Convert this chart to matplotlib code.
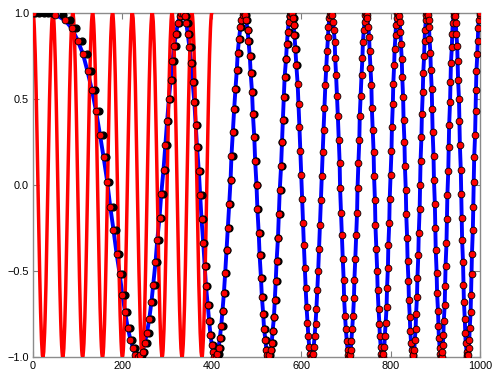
import numpy as np
import matplotlib
matplotlib.use("Agg")
import matplotlib.pyplot as plt

plt.rcParams['font.family'] = ['Liberation Sans', 'DejaVu Sans']

# reference signal (red), values x100, one per sample index 0..400
signal_x100 = [
    100, 99, 96, 91, 84, 76, 66, 55, 43, 29, 16, 2, -13, -26, -40, -52, -64, -74, -83, -90,
    -95, -99, -100, -99, -97, -92, -86, -78, -68, -58, -45, -32, -19, -5, 9, 23, 37, 50, 61, 72,
    81, 88, 94, 98, 100, 100, 98, 94, 88, 80, 71, 60, 48, 35, 22, 8, -6, -20, -34, -47,
    -59, -70, -79, -87, -93, -97, -100, -100, -98, -95, -89, -82, -73, -63, -51, -38, -25, -11, 3, 17,
    31, 44, 56, 67, 77, 85, 92, 96, 99, 100, 99, 96, 90, 84, 75, 65, 54, 41, 28, 14,
    0, -14, -28, -41, -54, -65, -75, -84, -90, -96, -99, -100, -99, -96, -92, -85, -77, -67, -56, -44,
    -31, -17, -3, 11, 25, 38, 51, 63, 73, 82, 89, 95, 98, 100, 100, 97, 93, 87, 79, 70,
    59, 47, 34, 20, 6, -8, -22, -35, -48, -60, -71, -80, -88, -94, -98, -100, -100, -98, -94, -88,
    -81, -72, -61, -50, -37, -23, -9, 5, 19, 32, 45, 58, 68, 78, 86, 92, 97, 99, 100, 99,
    95, 90, 83, 74, 64, 52, 40, 26, 13, -2, -16, -29, -43, -55, -66, -76, -84, -91, -96, -99,
    -100,
    -99, -96, -91, -84, -76, -66, -55, -43, -29, -16, -2, 13, 26, 40, 52, 64, 74, 83, 90, 95,
    99, 100, 99, 97, 92, 86, 78, 68, 58, 45, 32, 19, 5, -9, -23, -37, -50, -61, -72, -81,
    -88, -94, -98, -100, -100, -98, -94, -88, -80, -71, -60, -48, -35, -22, -8, 6, 20, 34, 47, 59,
    70, 79, 87, 93, 97, 100, 100, 98, 95, 89, 82, 73, 63, 51, 38, 25, 11, -3, -17, -31,
    -44, -56, -67, -77, -85, -92, -96, -99, -100, -99, -96, -90, -84, -75, -65, -54, -41, -28, -14, 0,
    14, 28, 41, 54, 65, 75, 84, 90, 96, 99, 100, 99, 96, 92, 85, 77, 67, 56, 44, 31,
    17, 3, -11, -25, -38, -51, -63, -73, -82, -89, -95, -98, -100, -100, -97, -93, -87, -79, -70, -59,
    -47, -34, -20, -6, 8, 22, 35, 48, 60, 71, 80, 88, 94, 98, 100, 100, 98, 94, 88, 81,
    72, 61, 50, 37, 23, 9, -5, -19, -32, -45, -58, -68, -78, -86, -92, -97, -99, -100, -99, -95,
    -90, -83, -74, -64, -52, -40, -26, -13, 2, 16, 29, 43, 55, 66, 76, 84, 91, 96, 99, 100,
]

# warped time of each sample (red dots on the blue curve)
warp_time = [
    0, 50, 71, 87, 100, 112, 122, 132, 141, 150, 158, 166, 173, 180, 187, 194, 200, 206, 212, 218,
    224, 229, 235, 240, 245, 250, 255, 260, 265, 269, 274, 278, 283, 287, 292, 296, 300, 304, 308, 312,
    316, 320, 324, 328, 332, 335, 339, 343, 346, 350, 354, 357, 361, 364, 367, 371, 374, 377, 381, 384,
    387, 391, 394, 397, 400, 403, 406, 409, 412, 415, 418, 421, 424, 427, 430, 433, 436, 439, 442, 444,
    447, 450, 453, 456, 458, 461, 464, 466, 469, 472, 474, 477, 480, 482, 485, 487, 490, 492, 495, 497,
    500, 502, 505, 507, 510, 512, 515, 517, 520, 522, 524, 527, 529, 532, 534, 536, 539, 541, 543, 545,
    548, 550, 552, 555, 557, 559, 561, 563, 566, 568, 570, 572, 574, 577, 579, 581, 583, 585, 587, 589,
    592, 594, 596, 598, 600, 602, 604, 606, 608, 610, 612, 614, 616, 618, 620, 622, 624, 626, 628, 630,
    632, 634, 636, 638, 640, 642, 644, 646, 648, 650, 652, 654, 656, 658, 660, 661, 663, 665,
    667, 669, 671, 673, 675, 676, 678, 680, 682, 684, 686, 687, 689, 691, 693, 695, 696, 698, 700, 702,
    704, 705, 707, 709, 711, 712, 714, 716, 718, 719, 721, 723, 725, 726, 728, 730, 731, 733, 735, 737,
    738, 740, 742, 743, 745, 747, 748, 750, 752, 753, 755, 757, 758, 760, 762, 763, 765, 766, 768, 770,
    771, 773, 775, 776, 778, 779, 781, 783, 784, 786, 787, 789, 791, 792, 794, 795, 797, 798, 800, 802,
    803, 805, 806, 808, 809, 811, 812, 814, 815, 817, 819, 820, 822, 823, 825, 826, 828, 829, 831, 832,
    834, 835, 837, 838, 840, 841, 843, 844, 846, 847, 849, 850, 851, 853, 854, 856, 857, 859, 860, 862,
    863, 865, 866, 867, 869, 870, 872, 873, 875, 876, 877, 879, 880, 882, 883, 885, 886, 887, 889, 890,
    892, 893, 894, 896, 897, 899, 900, 901, 903, 904, 906, 907, 908, 910, 911, 912, 914, 915, 917, 918,
    919, 921, 922, 923, 925, 926, 927, 929, 930, 931, 933, 934, 935, 937, 938, 939, 941, 942, 943, 945,
    946, 947, 949, 950, 951, 953, 954, 955, 957, 958, 959, 960, 962, 963, 964, 966, 967, 968, 970, 971,
    972, 973, 975, 976, 977, 979, 980, 981, 982, 984, 985, 986, 987, 989, 990, 991, 992, 994, 995, 996,
    997, 999, 1000,
]

# estimated warp (black dots), first 140 samples
est_time = [
    43, 66, 83, 97, 109, 120, 130, 139, 148, 156, 164, 171, 179, 185, 192, 198, 205, 211, 217, 222,
    228, 233, 238, 244, 249, 254, 259, 263, 268, 273, 277, 282, 286, 290, 295, 299, 303, 307, 311, 315,
    319, 323, 327, 331, 334, 338, 342, 346, 349, 353, 356, 360, 363, 367, 370, 373, 377, 380, 383, 386,
    390, 393, 396, 399, 402, 405, 409, 412, 415, 418, 421, 424, 426, 429, 432, 435, 438, 441, 444, 447,
    449, 452, 455, 458, 460, 463, 466, 468, 471, 474, 476, 479, 482, 484, 487, 489, 492, 494, 497, 499,
    502, 504, 507, 509, 512, 514, 517, 519, 521, 524, 526, 529, 531, 533, 536, 538, 540, 543, 545, 547,
    549, 552, 554, 556, 558, 561, 563, 565, 567, 570, 572, 574, 576, 578, 580, 583, 585, 587, 589, 591,
]
# extra estimated points held at the start value
est_start_time = [4, 14, 24, 34]
est_start_val = [1.0, 1.0, 1.0, 1.0]

sig = np.array(signal_x100) / 100.0
idx = np.arange(len(sig))

fig = plt.figure(figsize=(5, 3.83), dpi=100)
ax = fig.add_axes([0.066, 0.068, 0.894, 0.898])
ax.plot(warp_time, sig, color='blue', lw=2.8, zorder=2)
ax.plot(idx, sig, color='red', lw=2.5, zorder=3)
ax.plot(est_time, sig[:len(est_time)], 'o', color='black', ms=4.9, zorder=4)
ax.plot(est_start_time, est_start_val, 'o', color='black', ms=4.9, zorder=4)
ax.plot(warp_time, sig, 'o', mfc='red', mec='black', mew=0.6, ms=4.9, zorder=5)
ax.set_xlim(0, 1000)
ax.set_ylim(-1, 1)
ax.set_xticks([0, 200, 400, 600, 800, 1000])
ax.set_yticks([-1, -0.5, 0, 0.5, 1])
ax.set_yticklabels(['\u22121.0', '\u22120.5', '0.0', '0.5', '1.0'])
ax.tick_params(direction='in', top=True, right=True, length=4, width=0.8,
               color='0.5', labelsize=7.8, pad=3)
for sp in ax.spines.values():
    sp.set_color('0.55')
    sp.set_linewidth(1.0)
fig.savefig('out.png')
